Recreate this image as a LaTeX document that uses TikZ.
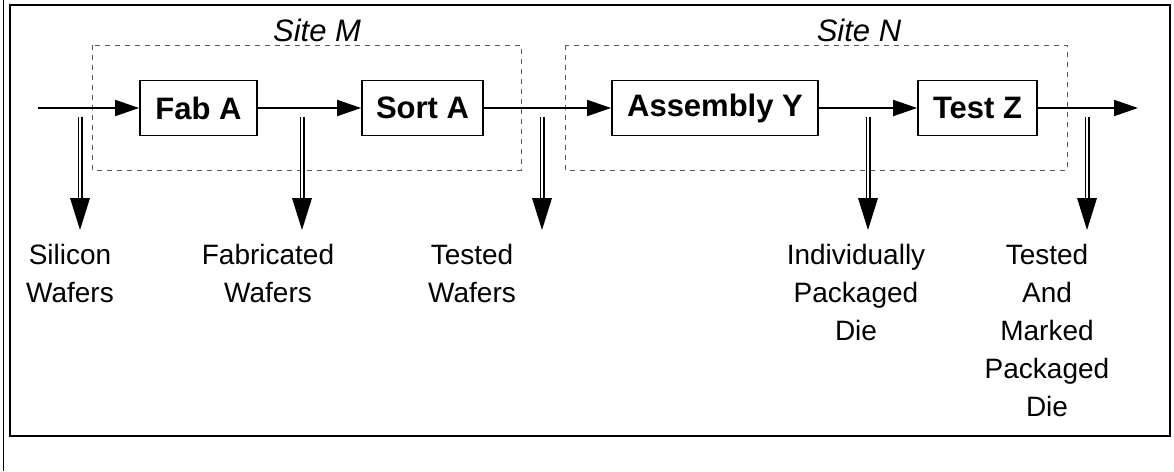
\documentclass[tikz,border=0pt]{standalone}
\usepackage{fontspec}
\setmainfont{Liberation Sans}
\usetikzlibrary{arrows.meta}
\begin{document}
\begin{tikzpicture}[x=1pt,y=-1pt,
  every node/.style={font=\fontsize{28}{38}\selectfont},
  stage/.style={draw, line width=1.8pt, minimum height=55pt, inner sep=0pt, font=\fontsize{31}{38}\selectfont\bfseries},
  flow/.style={line width=1.8pt, -{Triangle[length=24pt,width=16pt]}},
  site/.style={draw=black!65, dashed, dash pattern=on 5pt off 5pt, line width=0.9pt},
  sitelabel/.style={font=\fontsize{31}{38}\selectfont\itshape},
  product/.style={align=center, anchor=north, inner sep=0pt},
  shaft/.style={double, double distance=2.4pt, line width=1.3pt},
  frame/.style={line width=1.4pt}]
\useasboundingbox (0,0) rectangle (1174,471);
% outer frame
\draw[frame] (10,5) rectangle (1170,436);
\draw[line width=1pt] (3,0) -- (3,471);
% sites
\draw[site] (92,45) rectangle (521,170);
\draw[site] (565,45) rectangle (1067,170);
\node[sitelabel] (sm) at (317,30) {Site M};
\node[sitelabel] (sn) at (859,30) {Site N};
% process stages
\node[stage, minimum width=117pt] (fab) at (198.5,108) {Fab A};
\node[stage, minimum width=121pt] (sort) at (422.5,108) {Sort A};
\node[stage, minimum width=206pt] (asm) at (715,108) {Assembly Y};
\node[stage, minimum width=119pt] (test) at (977.5,108) {Test Z};
\coordinate (in) at (38,108);
\coordinate (outp) at (1138,108);
\draw[flow] (in) -- (fab);
\draw[flow] (fab) -- (sort);
\draw[flow] (sort) -- (asm);
\draw[flow] (asm) -- (test);
\draw[flow] (test) -- (outp);
% products
\node[product] (p1) at (70,244) {Silicon\\Wafers};
\node[product] (p2) at (268,244) {Fabricated\\Wafers};
\node[product] (p3) at (472,244) {Tested\\Wafers};
\node[product] (p4) at (856,244) {Individually\\Packaged\\Die};
\node[product] (p5) at (1047,244) {Tested\\And\\Marked\\Packaged\\Die};
% product arrows
\foreach \x/\n in {80/1,302/2,542/3,868/4,1087/5}{
  \coordinate (s\n) at (\x,117);
  \coordinate (h\n) at (\x,198);
  \coordinate (t\n) at (\x,230);
  \draw[shaft] (s\n) -- (h\n);
  \fill (t\n) -- ([xshift=-10pt]h\n) -- ([xshift=10pt]h\n) -- cycle;
}
\end{tikzpicture}
\end{document}
